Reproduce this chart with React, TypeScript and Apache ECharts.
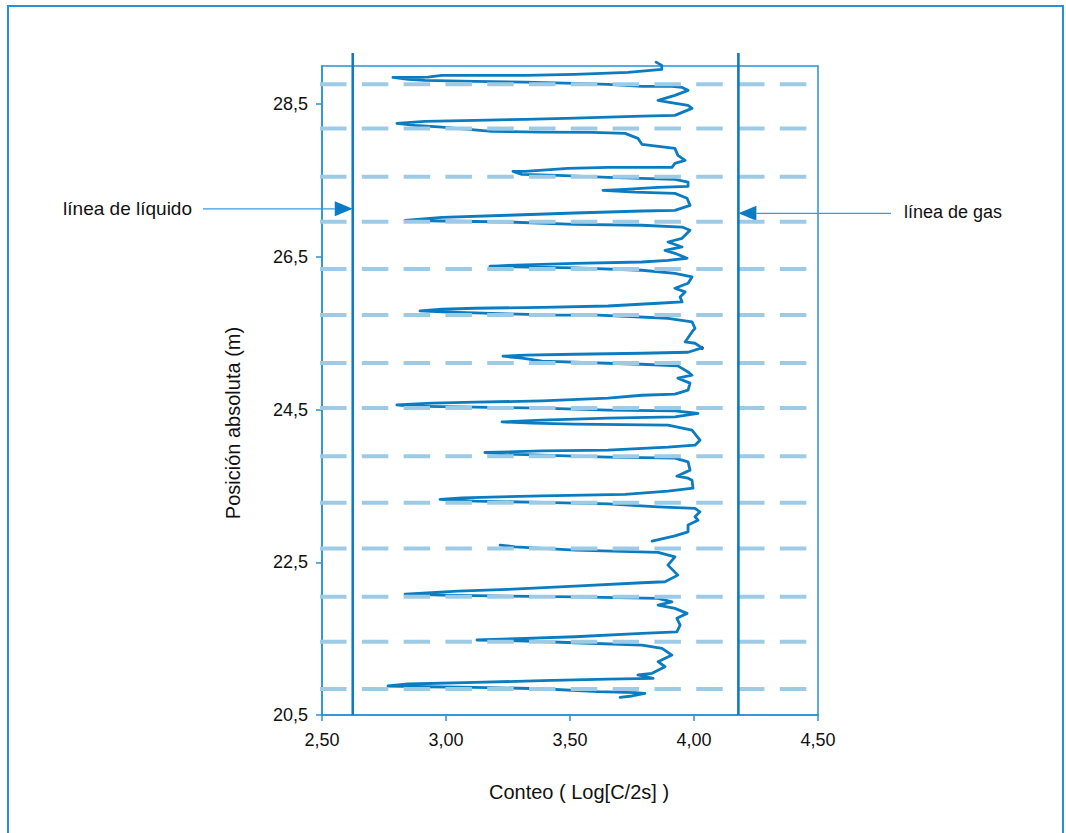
import React, { useEffect, useRef } from "react";
import * as echarts from "echarts";

// ---- axes ----
const X_MIN = 2.5;
const X_MAX = 4.5;
const X_INTERVAL = 0.5;
const Y_MIN = 20.5;
const Y_MAX = 29;
const Y_TICKS = [20.5, 22.5, 24.5, 26.5, 28.5];

// ---- log curve, upper run (Conteo vs Posición) ----
const COUNT_UPPER = [
  3.847, 3.87, 3.87, 3.734, 3.52, 3.319, 2.983, 2.927, 2.786, 2.847, 2.915, 3.117, 3.319, 3.52, 3.653, 3.79, 3.911, 3.952, 3.976, 3.923,
  3.855, 3.895, 3.976, 3.992, 3.923, 3.79, 3.52, 3.319, 3.117, 2.915, 2.802, 2.875, 2.984, 3.185, 3.387, 3.589, 3.722, 3.774, 3.79, 3.923,
  3.935, 3.964, 3.923, 3.911, 3.79, 3.653, 3.492, 3.319, 3.27, 3.306, 3.452, 3.653, 3.923, 3.976, 3.976, 3.855, 3.722, 3.633, 3.762, 3.923,
  3.972, 3.984, 3.923, 3.79, 3.52, 3.25, 2.984, 2.835, 2.984, 3.25, 3.52, 3.79, 3.952, 3.984, 3.952, 3.895, 3.952, 3.883, 3.923, 3.972,
  3.895, 3.79, 3.52, 3.25, 3.177, 3.278, 3.52, 3.79, 3.923, 3.992, 3.976, 3.923, 3.964, 3.944, 3.952, 3.855, 3.653, 3.387, 3.117, 2.984,
  2.895, 2.984, 3.25, 3.452, 3.613, 3.895, 3.992, 4.004, 3.992, 3.964, 4.004, 4.032, 3.976, 3.79, 3.52, 3.319, 3.23, 3.306, 3.387, 3.653,
  3.79, 3.935, 3.976, 3.992, 3.935, 3.984, 3.976, 3.923, 3.79, 3.653, 3.387, 3.117, 2.944, 2.802, 2.847, 3.117, 3.387, 3.653, 3.923, 4.016,
  3.923, 3.653, 3.387, 3.226, 3.347, 3.52, 3.895, 3.992, 4.024, 4.004, 3.895, 3.653, 3.387, 3.157, 3.25, 3.52, 3.653, 3.923, 3.976, 3.984,
  3.931, 3.976, 3.992, 3.996, 3.895, 3.722, 3.387, 3.065, 2.976, 3.117, 3.387, 3.653, 3.855, 4.004, 4.024, 4.004, 4.016, 3.976, 3.976, 3.923,
  3.831,
];
const DEPTH_UPPER = [
  29.051, 29.008, 28.955, 28.916, 28.89, 28.877, 28.877, 28.855, 28.851, 28.825, 28.812, 28.798, 28.789, 28.772, 28.759, 28.733, 28.733, 28.72, 28.681, 28.615,
  28.55, 28.527, 28.484, 28.445, 28.353, 28.344, 28.318, 28.301, 28.288, 28.275, 28.249, 28.223, 28.2, 28.144, 28.135, 28.131, 28.118, 28.052, 27.974, 27.921,
  27.83, 27.764, 27.725, 27.673, 27.673, 27.673, 27.66, 27.62, 27.62, 27.581, 27.568, 27.542, 27.516, 27.48, 27.424, 27.411, 27.385, 27.372, 27.349, 27.332,
  27.267, 27.175, 27.11, 27.101, 27.075, 27.045, 27.018, 26.979, 26.97, 26.957, 26.927, 26.914, 26.891, 26.848, 26.743, 26.695, 26.63, 26.586, 26.547, 26.482,
  26.455, 26.433, 26.416, 26.39, 26.377, 26.368, 26.355, 26.325, 26.285, 26.237, 26.154, 26.089, 26.041, 25.975, 25.91, 25.893, 25.857, 25.84, 25.827, 25.814,
  25.792, 25.779, 25.753, 25.736, 25.736, 25.696, 25.648, 25.565, 25.517, 25.386, 25.369, 25.308, 25.251, 25.238, 25.225, 25.212, 25.199, 25.173, 25.134, 25.107,
  25.094, 25.072, 24.993, 24.95, 24.911, 24.846, 24.754, 24.702, 24.688, 24.649, 24.614, 24.597, 24.584, 24.562, 24.545, 24.531, 24.518, 24.492, 24.483, 24.449,
  24.404, 24.387, 24.361, 24.339, 24.322, 24.309, 24.296, 24.23, 24.099, 24.034, 24.008, 23.969, 23.959, 23.938, 23.916, 23.89, 23.877, 23.864, 23.815, 23.707,
  23.628, 23.602, 23.576, 23.471, 23.432, 23.389, 23.37, 23.344, 23.323, 23.301, 23.284, 23.266, 23.226, 23.205, 23.161, 23.096, 23.052, 22.987, 22.899, 22.847,
  22.777,
];

// ---- log curve, lower run ----
const COUNT_LOWER = [
  3.218, 3.278, 3.52, 3.855, 3.923, 3.895, 3.935, 3.883, 3.79, 3.52, 3.25, 3.048, 2.835, 2.984, 3.25, 3.52, 3.855, 3.911, 3.855, 3.923,
  3.972, 3.931, 3.944, 3.931, 3.79, 3.52, 3.319, 3.125, 3.319, 3.52, 3.79, 3.871, 3.911, 3.855, 3.883, 3.831, 3.774, 3.835, 3.653, 3.387,
  3.117, 2.847, 2.766, 2.915, 3.117, 3.387, 3.613, 3.762, 3.802, 3.75, 3.702,
];
const DEPTH_LOWER = [
  22.725, 22.703, 22.66, 22.63, 22.572, 22.463, 22.332, 22.245, 22.232, 22.188, 22.145, 22.123, 22.084, 22.071, 22.058, 22.048, 22.027, 21.983, 21.94, 21.897,
  21.831, 21.766, 21.678, 21.59, 21.569, 21.525, 21.504, 21.482, 21.469, 21.446, 21.416, 21.373, 21.285, 21.198, 21.132, 21.046, 21.024, 20.98, 20.971, 20.949,
  20.928, 20.906, 20.88, 20.87, 20.863, 20.844, 20.805, 20.792, 20.784, 20.749, 20.732,
];

// ---- dashed reference depths ----
const GRID_DEPTHS = [28.76, 28.18, 27.55, 26.96, 26.34, 25.74, 25.11, 24.52, 23.89, 23.28, 22.68, 22.05, 21.46, 20.84];
const GRID_LINE_SPAN = [2.492, 4.456];

// ---- liquid / gas lines ----
const LIQUID_LINE = 2.624;
const GAS_LINE = 4.179;
const BOUNDARY_SPAN = [20.5, 29.17];
const LIQUID_ARROW_DEPTH = 27.13;
const GAS_ARROW_DEPTH = 27.07;
const MARKED_POINT = [4.032, 25.308];

const LABEL_LIQUID = "línea de líquido";
const LABEL_GAS = "línea de gas";
const X_NAME = "Conteo ( Log[C/2s] )";
const Y_NAME = "Posición absoluta (m)";

const FONT = '"Liberation Sans", Arial, Helvetica, sans-serif';
const CURVE_COLOR = "#0c7cc0";
const FRAME_COLOR = "#2a90d6";
const DASH_COLOR = "#9dcbe6";
const LINE_COLOR = "#0f7abf";

const zip = (xs: number[], ys: number[]) => xs.map((x, i) => [x, ys[i]]);

export default function App() {
  const ref = useRef<HTMLDivElement>(null);

  useEffect(() => {
    if (!ref.current) return;
    const chart = echarts.init(ref.current, undefined, { renderer: "svg" });

    const dashSeries = GRID_DEPTHS.map((d) => ({
      type: "line",
      data: GRID_LINE_SPAN.map((x) => [x, d]),
      symbol: "none",
      silent: true,
      clip: false,
      lineStyle: { color: DASH_COLOR, width: 4, type: [26.5, 15.3] },
    }));

    const boundarySeries = [LIQUID_LINE, GAS_LINE].map((x) => ({
      type: "line",
      data: BOUNDARY_SPAN.map((y) => [x, y]),
      symbol: "none",
      silent: true,
      clip: false,
      lineStyle: { color: LINE_COLOR, width: 2.6 },
    }));

    const curveStyle = { color: CURVE_COLOR, width: 2.8, join: "round", cap: "round" };

    chart.setOption({
      animation: false,
      grid: {
        left: 322,
        top: 66,
        width: 496,
        height: 649,
        show: true,
        borderColor: FRAME_COLOR,
        borderWidth: 1.5,
      },
      xAxis: {
        type: "value",
        min: X_MIN,
        max: X_MAX,
        interval: X_INTERVAL,
        axisLine: { show: true, lineStyle: { color: FRAME_COLOR, width: 1.5 } },
        axisTick: { show: true, length: 6, lineStyle: { color: FRAME_COLOR, width: 1.5 } },
        axisLabel: {
          margin: 16,
          fontSize: 18,
          fontFamily: FONT,
          color: "#111",
          formatter: (v: number) => v.toFixed(2).replace(".", ","),
        },
        splitLine: { show: false },
      },
      yAxis: {
        type: "value",
        min: Y_MIN,
        max: Y_MAX,
        axisLine: { show: true, lineStyle: { color: FRAME_COLOR, width: 1.5 } },
        axisTick: { show: true, length: 6, customValues: Y_TICKS, lineStyle: { color: FRAME_COLOR, width: 1.5 } },
        axisLabel: {
          customValues: Y_TICKS,
          margin: 14,
          fontSize: 18,
          fontFamily: FONT,
          color: "#111",
          formatter: (v: number) => v.toFixed(1).replace(".", ","),
        },
        splitLine: { show: false },
      },
      series: [
        {
          type: "line",
          data: zip(COUNT_UPPER, DEPTH_UPPER),
          symbol: "none",
          clip: false,
          silent: true,
          lineStyle: curveStyle,
        },
        {
          type: "line",
          data: zip(COUNT_LOWER, DEPTH_LOWER),
          symbol: "none",
          clip: false,
          silent: true,
          lineStyle: curveStyle,
        },
        ...dashSeries,
        ...boundarySeries,
        {
          type: "scatter",
          data: [MARKED_POINT],
          symbolSize: 4,
          silent: true,
          itemStyle: { color: "#111" },
        },
      ],
    });

    const liq = chart.convertToPixel({ gridIndex: 0 }, [LIQUID_LINE, LIQUID_ARROW_DEPTH]) as number[];
    const gas = chart.convertToPixel({ gridIndex: 0 }, [GAS_LINE, GAS_ARROW_DEPTH]) as number[];
    const aw = 18;
    const ah = 7.5;

    chart.setOption({
      graphic: [
        {
          type: "rect",
          silent: true,
          shape: { x: 8, y: 6, width: 1055, height: 860 },
          style: { fill: "none", stroke: FRAME_COLOR, lineWidth: 2 },
        },
        {
          type: "line",
          silent: true,
          shape: { x1: 203, y1: liq[1], x2: liq[0] - aw, y2: liq[1] },
          style: { stroke: "#3a9bdc", lineWidth: 1.2 },
        },
        {
          type: "polygon",
          silent: true,
          shape: { points: [[liq[0], liq[1]], [liq[0] - aw, liq[1] - ah], [liq[0] - aw, liq[1] + ah]] },
          style: { fill: "#0a7cc4" },
        },
        {
          type: "line",
          silent: true,
          shape: { x1: gas[0] + aw, y1: gas[1], x2: 891, y2: gas[1] },
          style: { stroke: "#3a9bdc", lineWidth: 1.2 },
        },
        {
          type: "polygon",
          silent: true,
          shape: { points: [[gas[0], gas[1]], [gas[0] + aw, gas[1] - ah], [gas[0] + aw, gas[1] + ah]] },
          style: { fill: "#0a7cc4" },
        },
        {
          type: "text",
          silent: true,
          x: 192,
          y: liq[1],
          style: { text: LABEL_LIQUID, font: `19px ${FONT}`, fill: "#111", textAlign: "right", textVerticalAlign: "middle" },
        },
        {
          type: "text",
          silent: true,
          x: 904,
          y: gas[1] - 1,
          style: { text: LABEL_GAS, font: `18px ${FONT}`, fill: "#111", textAlign: "left", textVerticalAlign: "middle" },
        },
        {
          type: "text",
          silent: true,
          x: 579,
          y: 792,
          style: { text: X_NAME, font: `20px ${FONT}`, fill: "#111", textAlign: "center", textVerticalAlign: "middle" },
        },
        {
          type: "text",
          silent: true,
          x: 233,
          y: 423,
          rotation: Math.PI / 2,
          style: { text: Y_NAME, font: `20px ${FONT}`, fill: "#111", textAlign: "center", textVerticalAlign: "middle" },
        },
      ],
    });

    return () => chart.dispose();
  }, []);

  return <div ref={ref} style={{ position: "fixed", left: 0, top: 0, width: 1066, height: 833, background: "#fff" }} />;
}
